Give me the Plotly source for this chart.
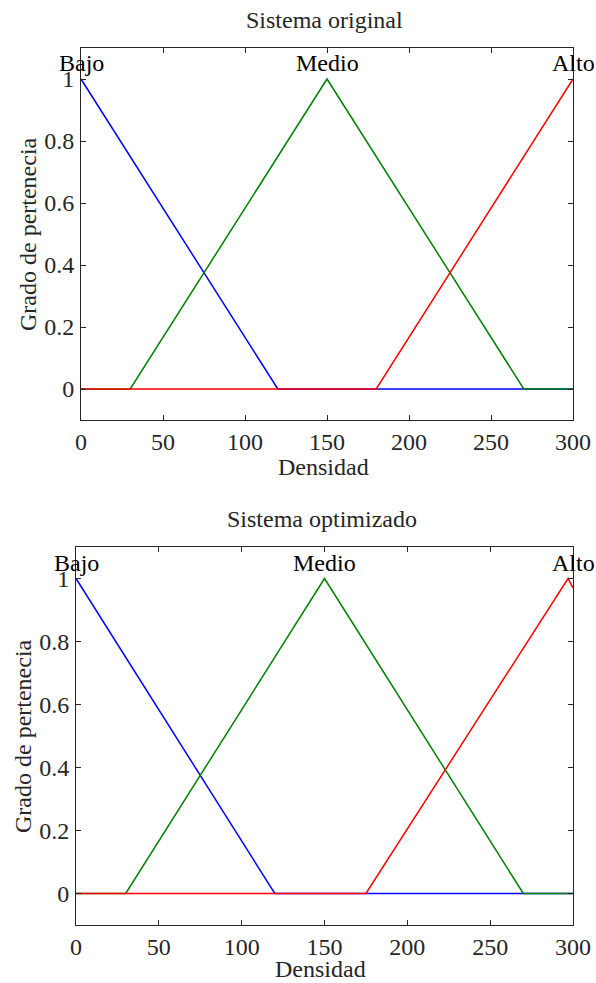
import plotly.graph_objects as go

# ---- data ----
density_orig_bajo = [0, 120, 300]
grade_orig_bajo = [1, 0, 0]
density_orig_medio = [0, 30, 150, 270, 300]
grade_orig_medio = [0, 0, 1, 0, 0]
density_orig_alto = [0, 180, 300]
grade_orig_alto = [0, 0, 1]

density_opt_bajo = [0, 120, 300]
grade_opt_bajo = [1, 0, 0]
density_opt_medio = [0, 30, 150, 270, 300]
grade_opt_medio = [0, 0, 1, 0, 0]
density_opt_alto = [0, 175, 297, 300]
grade_opt_alto = [0, 0, 1, 0.97]

mf_names = ["Bajo", "Medio", "Alto"]
mf_label_x = [0, 150, 300]
y_ticks = [0, 0.2, 0.4, 0.6, 0.8, 1]
y_ticktext = ["0", "0.2", "0.4", "0.6", "0.8", "1"]
x_ticks = [0, 50, 100, 150, 200, 250, 300]
titles = ["Sistema original", "Sistema optimizado"]
x_title = "Densidad"
y_title = "Grado de pertenecia"

FONT = "Liberation Serif, Times New Roman, serif"
FS = 24
TXT = "#262626"
colors = ["#0000ff", "#008000", "#ff0000"]

W, H = 596, 983
# plot boxes in page pixels: (left, right, top, bottom)
boxes = [(81, 573, 48, 420), (76, 573, 547, 925)]
xtitle_gap = [47, 44]

fig = go.Figure()

sets = [
    [(density_orig_bajo, grade_orig_bajo), (density_orig_medio, grade_orig_medio), (density_orig_alto, grade_orig_alto)],
    [(density_opt_bajo, grade_opt_bajo), (density_opt_medio, grade_opt_medio), (density_opt_alto, grade_opt_alto)],
]

for i, s in enumerate(sets):
    xa = "x" if i == 0 else "x2"
    ya = "y" if i == 0 else "y2"
    for (xs, ys), c, n in zip(s, colors, mf_names):
        fig.add_trace(go.Scatter(x=xs, y=ys, mode="lines", line=dict(color=c, width=1.5),
                                 name=n, showlegend=False, xaxis=xa, yaxis=ya, cliponaxis=False))

axis_common = dict(showline=True, linecolor=TXT, linewidth=1, mirror="ticks", ticks="inside",
                   ticklen=5, tickcolor=TXT, showgrid=False, zeroline=False, automargin=False,
                   tickfont=dict(family=FONT, size=FS, color=TXT))

layout = dict(width=W, height=H, margin=dict(l=0, r=0, t=0, b=0, autoexpand=False),
              paper_bgcolor="white", plot_bgcolor="white", showlegend=False)


def px(v):
    return v / W


def py(v):
    return 1 - v / H


annotations = []
for i, (l, r, t, b) in enumerate(boxes):
    sx = "" if i == 0 else "2"
    layout["xaxis" + sx] = dict(axis_common, domain=[px(l), px(r)], range=[0, 300],
                                tickvals=x_ticks, anchor="y" + sx, ticklabelstandoff=0)
    layout["yaxis" + sx] = dict(axis_common, domain=[py(b), py(t)], range=[-0.1, 1.1],
                                tickvals=y_ticks, ticktext=y_ticktext, anchor="x" + sx,
                                ticklabelstandoff=1)
    cx = (l + r) / 2
    # title
    annotations.append(dict(text=titles[i], x=px(cx - 3), y=py(t - 28), xref="paper", yref="paper",
                            xanchor="center", yanchor="middle", showarrow=False,
                            font=dict(family=FONT, size=FS, color=TXT)))
    # x title
    annotations.append(dict(text=x_title, x=px(cx - 4), y=py(b + xtitle_gap[i]), xref="paper", yref="paper",
                            xanchor="center", yanchor="middle", showarrow=False,
                            font=dict(family=FONT, size=FS, color=TXT)))
    # y title
    annotations.append(dict(text=y_title, x=px(l - 53), y=py((t + b) / 2), xref="paper", yref="paper",
                            xanchor="center", yanchor="middle", showarrow=False, textangle=-90,
                            font=dict(family=FONT, size=FS, color=TXT)))
    # MF labels
    for n, xv in zip(mf_names, mf_label_x):
        annotations.append(dict(text=n, x=xv, y=1, xref="x" + sx, yref="y" + sx,
                                xanchor="center", yanchor="bottom", showarrow=False, yshift=1,
                                font=dict(family=FONT, size=FS, color="black")))

layout["annotations"] = annotations
fig.update_layout(**layout)
fig.write_html("out.html", config={"displayModeBar": False},
               post_script="document.body.style.margin='0';document.body.style.overflow='hidden';")
